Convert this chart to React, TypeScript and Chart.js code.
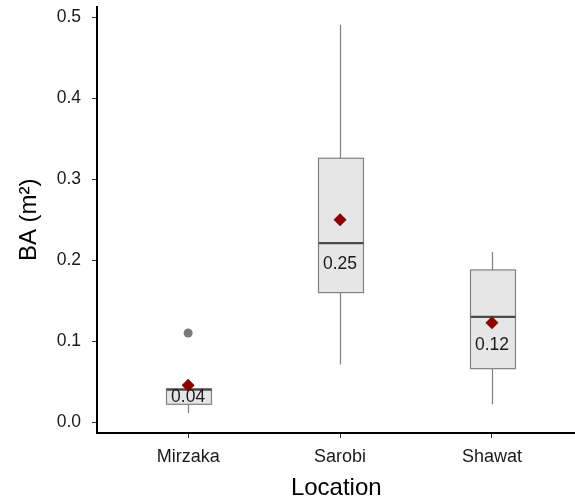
import React, { useEffect, useRef } from "react";
import { Chart, registerables } from "chart.js";

Chart.register(...registerables);

const categories = ["Mirzaka", "Sarobi", "Shawat"];
const whiskerLow = [0.011, 0.071, 0.022];
const q1 = [0.022, 0.16, 0.066];
const medians = [0.040, 0.221, 0.130];
const q3 = [0.041, 0.326, 0.188];
const whiskerHigh = [0.041, 0.491, 0.21];
const means = [0.0455, 0.25, 0.1228];
const meanLabels = ["0.04", "0.25", "0.12"];
const labelAt = [0.031, 0.195, 0.095];
const outlierCategory = ["Mirzaka"];
const outlierValues = [0.11];
const yTicks = [0, 0.1, 0.2, 0.3, 0.4, 0.5];

const FONT = "'Liberation Sans', Arial, sans-serif";
const BOX_WIDTH = 0.3;

const boxPlugin = {
  id: "boxes",
  beforeDatasetsDraw(chart: any) {
    const { ctx, scales } = chart;
    const x = scales.x;
    const y = scales.y;
    ctx.save();
    categories.forEach((_, i) => {
      const cx = Math.round(x.getPixelForValue(i + 1)) + 0.5;
      const half = x.getPixelForValue(i + 1 + BOX_WIDTH / 2) - x.getPixelForValue(i + 1);
      const pLow = y.getPixelForValue(whiskerLow[i]);
      const pHigh = y.getPixelForValue(whiskerHigh[i]);
      const pQ1 = y.getPixelForValue(q1[i]);
      const pQ3 = y.getPixelForValue(q3[i]);
      const pMed = y.getPixelForValue(medians[i]);
      ctx.strokeStyle = "#808080";
      ctx.lineWidth = 1.2;
      ctx.beginPath();
      ctx.moveTo(cx, pHigh);
      ctx.lineTo(cx, pQ3);
      ctx.moveTo(cx, pQ1);
      ctx.lineTo(cx, pLow);
      ctx.stroke();
      const left = Math.round(cx - half) + 0.5;
      const right = Math.round(cx + half) + 0.5;
      ctx.fillStyle = "#e6e6e6";
      ctx.fillRect(left, pQ3, right - left, pQ1 - pQ3);
      ctx.strokeStyle = "#808080";
      ctx.lineWidth = 1.2;
      ctx.strokeRect(left, pQ3, right - left, pQ1 - pQ3);
      ctx.strokeStyle = "#4a4a4a";
      ctx.lineWidth = 2.2;
      ctx.beginPath();
      ctx.moveTo(left, pMed);
      ctx.lineTo(right, pMed);
      ctx.stroke();
    });
    ctx.restore();
  },
  afterDatasetsDraw(chart: any) {
    const { ctx, scales } = chart;
    ctx.save();
    ctx.fillStyle = "#1a1a1a";
    ctx.font = `17.5px ${FONT}`;
    ctx.textAlign = "center";
    ctx.textBaseline = "middle";
    categories.forEach((_, i) => {
      ctx.fillText(meanLabels[i], scales.x.getPixelForValue(i + 1), scales.y.getPixelForValue(labelAt[i]));
    });
    ctx.restore();
  },
};

export default function App() {
  const ref = useRef<HTMLCanvasElement>(null);
  useEffect(() => {
    if (!ref.current) return;
    const chart = new Chart(ref.current, {
      type: "scatter",
      data: {
        datasets: [
          {
            data: outlierValues.map((v, i) => ({ x: categories.indexOf(outlierCategory[i]) + 1, y: v })),
            pointStyle: "circle",
            pointRadius: 4.5,
            backgroundColor: "#7a7a7a",
            borderWidth: 0,
          },
          {
            data: means.map((v, i) => ({ x: i + 1, y: v })),
            pointStyle: "rectRot",
            pointRadius: 6.5,
            backgroundColor: "#8b0000",
            borderWidth: 0,
          },
        ],
      },
      options: {
        animation: false,
        responsive: false,
        layout: { padding: { top: 5, right: 0, left: 0, bottom: 0 } },
        plugins: { legend: { display: false }, tooltip: { enabled: false } },
        scales: {
          x: {
            type: "linear",
            min: 0.4,
            max: 3.55,
            afterFit: (s: any) => {
              s.height = 69;
              s.paddingLeft = 0;
              s.paddingRight = 0;
            },
            afterBuildTicks: (s: any) => {
              s.ticks = categories.map((_, i) => ({ value: i + 1 }));
            },
            ticks: {
              callback: (v: any) => categories[Number(v) - 1] ?? "",
              autoSkip: false,
              maxRotation: 0,
              padding: 8,
              color: "#1a1a1a",
              font: { family: FONT, size: 18 },
            },
            grid: { drawOnChartArea: false, drawTicks: true, tickLength: 5, color: "#333" },
            border: { display: true, color: "#000", width: 2 },
            title: {
              display: true,
              text: "Location",
              color: "#000",
              font: { family: FONT, size: 24 },
              padding: { top: 0, bottom: -1 },
            },
          },
          y: {
            type: "linear",
            min: -0.0135,
            max: 0.5135,
            afterFit: (s: any) => {
              s.width = 97;
              s.paddingTop = 0;
              s.paddingBottom = 0;
            },
            afterBuildTicks: (s: any) => {
              s.ticks = yTicks.map((v) => ({ value: v }));
            },
            ticks: {
              callback: (v: any) => Number(v).toFixed(1),
              padding: 11,
              color: "#1a1a1a",
              font: { family: FONT, size: 17.5 },
            },
            grid: { drawOnChartArea: false, drawTicks: true, tickLength: 5, color: "#333" },
            border: { display: true, color: "#000", width: 2 },
            title: {
              display: true,
              text: "BA (m²)",
              color: "#000",
              font: { family: FONT, size: 24 },
              padding: { top: 15, bottom: 0 },
            },
          },
        },
      },
      plugins: [boxPlugin],
    });
    return () => chart.destroy();
  }, []);
  return (
    <div style={{ position: "absolute", left: 0, top: 0, width: 575, height: 502, overflow: "hidden" }}>
      <canvas ref={ref} width={582} height={502} />
    </div>
  );
}
